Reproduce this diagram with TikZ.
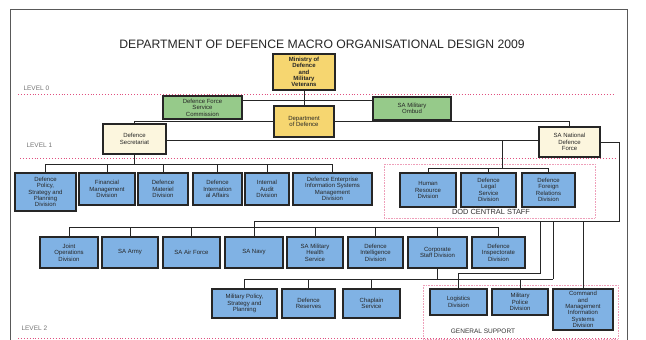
\documentclass[tikz,border=0pt]{standalone}
\usepackage{fontspec}
\setmainfont{Liberation Sans}
\usetikzlibrary{calc}
\definecolor{boxblue}{RGB}{128,178,228}
\definecolor{boxgreen}{RGB}{150,202,138}
\definecolor{boxyellow}{RGB}{246,214,112}
\definecolor{boxcream}{RGB}{252,246,222}
\definecolor{levelpink}{RGB}{224,80,128}
\newcommand\bxf{\fontsize{6}{6.4}\selectfont}
\begin{document}
\begin{tikzpicture}[x=1pt,y=-1pt,
  base/.style={draw=black!85, line width=1.1pt, align=center, inner sep=0.3pt, font=\bxf, text=black!85},
  bluebox/.style={base, fill=boxblue},
  greenbox/.style={base, fill=boxgreen},
  yellowbox/.style={base, fill=boxyellow},
  creambox/.style={base, fill=boxcream},
  conn/.style={draw=black!85, line width=0.9pt},
  levelline/.style={draw=levelpink, dotted, line width=0.9pt},
  grouprect/.style={draw=levelpink!55, densely dotted, line width=0.6pt},
  lvl/.style={font=\fontsize{6.5}{7}\selectfont, text=black!55},
  grplabel/.style={font=\fontsize{7.4}{8}\selectfont, text=black!80},
  framec/.style={draw=black!65, line width=0.8pt}]
\useasboundingbox (0,0) rectangle (646,340);
\fill[white] (0,0) rectangle (646,340);
\draw[framec] (10,9) rectangle (627,352);

\node[font=\fontsize{12.2}{13}\selectfont, text=black!85] (title) at (322,44) {DEPARTMENT OF DEFENCE MACRO ORGANISATIONAL DESIGN 2009};

% level lines
\draw[levelline] (18,94) -- (615,94);
\draw[levelline] (20,158) -- (617,158);
\draw[levelline] (18,338) -- (620,338);
\node[lvl, anchor=west] (lv0) at (20,88) {LEVEL 0};
\node[lvl, anchor=west] (lv1) at (23,145) {LEVEL 1};
\node[lvl, anchor=west] (lv2) at (18,328) {LEVEL 2};

% group rectangles
\draw[grouprect] (384,164) rectangle (595,218);
\node[grplabel] (dcs) at (491,212) {DOD CENTRAL STAFF};
\draw[grouprect] (423,285) rectangle (618,339);
\node[grplabel, font=\fontsize{6.5}{7}\selectfont] (gsl) at (483,331) {GENERAL SUPPORT};

% top level
\node[yellowbox, font=\bxf\bfseries, minimum width=62pt, minimum height=36pt] (min) at (304,72) {Ministry of\\Defence\\and\\Military\\Veterans};
\node[greenbox, minimum width=79pt, minimum height=23pt] (dfsc) at (202.5,107.5) {Defence Force\\Service\\Commission};
\node[yellowbox, minimum width=60pt, minimum height=31pt] (dod) at (304,121.5) {Department\\of Defence};
\node[greenbox, minimum width=78pt, minimum height=23pt] (omb) at (412,108.5) {SA Military\\Ombud};
\node[creambox, minimum width=63pt, minimum height=30pt] (sec) at (134.5,139) {Defence\\Secretariat};
\node[creambox, minimum width=61pt, minimum height=30pt] (sandf) at (569.5,142) {SA National\\Defence\\Force};

% level 1 secretariat divisions
\node[bluebox, minimum width=61pt, minimum height=38pt] (s1) at (45.5,192) {Defence\\Policy,\\Strategy and\\Planning\\Division};
\node[bluebox, minimum width=56pt, minimum height=32pt] (s2) at (107,189) {Financial\\Management\\Division};
\node[bluebox, minimum width=50pt, minimum height=32pt] (s3) at (163,189) {Defence\\Materiel\\Division};
\node[bluebox, minimum width=49pt, minimum height=32pt] (s4) at (217.5,189) {Defence\\Internation\\al Affairs};
\node[bluebox, minimum width=44pt, minimum height=32pt] (s5) at (267,189) {Internal\\Audit\\Division};
\node[bluebox, minimum width=79pt, minimum height=32pt] (s6) at (332.5,189) {Defence Enterprise\\Information Systems\\Management\\Division};

% central staff
\node[bluebox, minimum width=56pt, minimum height=34pt] (c1) at (428,190) {Human\\Resource\\Division};
\node[bluebox, minimum width=55pt, minimum height=34pt] (c2) at (488.5,190) {Defence\\Legal\\Service\\Division};
\node[bluebox, minimum width=53pt, minimum height=34pt] (c3) at (548.5,190) {Defence\\Foreign\\Relations\\Division};

% level 2 services and divisions
\node[bluebox, minimum width=58pt, minimum height=31pt] (r1) at (69,252.5) {Joint\\Operations\\Division};
\node[bluebox, minimum width=56pt, minimum height=31pt] (r2) at (130,252.5) {SA Army};
\node[bluebox, minimum width=57pt, minimum height=31pt] (r3) at (191.5,252.5) {SA Air Force};
\node[bluebox, minimum width=58pt, minimum height=31pt] (r4) at (254,252.5) {SA Navy};
\node[bluebox, minimum width=56pt, minimum height=31pt] (r5) at (315,252.5) {SA Military\\Health\\Service};
\node[bluebox, minimum width=55pt, minimum height=31pt] (r6) at (375.5,252.5) {Defence\\Intelligence\\Division};
\node[bluebox, minimum width=59pt, minimum height=31pt] (r7) at (437.5,252.5) {Corporate\\Staff Division};
\node[bluebox, minimum width=53pt, minimum height=31pt] (r8) at (498.5,252.5) {Defence\\Inspectorate\\Division};

% lower row
\node[bluebox, minimum width=65pt, minimum height=29pt] (l1) at (244.5,303.5) {Military Policy,\\Strategy and\\Planning};
\node[bluebox, minimum width=53pt, minimum height=29pt] (l2) at (308.5,303.5) {Defence\\Reserves};
\node[bluebox, minimum width=57pt, minimum height=29pt] (l3) at (371.5,303.5) {Chaplain\\Service};
\node[bluebox, minimum width=57pt, minimum height=26pt] (g1) at (458.5,302) {Logistics\\Division};
\node[bluebox, minimum width=56pt, minimum height=26pt] (g2) at (520,302) {Military\\Police\\Division};
\node[bluebox, minimum width=60pt, minimum height=41pt] (g3) at (583,309.5) {Command\\and\\Management\\Information\\Systems\\Division};

% connectors: top
\coordinate (j0) at (304,100);
\coordinate (j1) at (0,121);
\coordinate (j2) at (0,140);
\coordinate (j3) at (0,164);
\coordinate (j4) at (0,168);
\coordinate (j5) at (0,227);
\coordinate (jl) at (0,273);
\coordinate (j6) at (0,279);
\coordinate (cs) at (502,140);
\coordinate (rc) at (619,221);
\coordinate (lg) at (540,221);
\coordinate (mpc) at (553,221);

\draw[conn] (min.south) -- (dod.north);
\draw[conn] (dfsc.east |- j0) -- (omb.west |- j0);
\draw[conn] (sec.north) |- (dod.west |- j1);
\draw[conn] (dod.east |- j1) -| (sandf.north);
\draw[conn] (sec.east |- j2) -- (sandf.west |- j2);

% secretariat bar
\draw[conn] (sec.south) -- (sec.south |- j3);
\draw[conn] (s1.north |- j3) -- (s6.north |- j3);
\foreach \n in {s1,s2,s3,s4,s5,s6} \draw[conn] (\n.north |- j3) -- (\n.north);

% central staff bar
\draw[conn] (cs) -- (cs |- j4);
\draw[conn] (c1.north |- j4) -- (c3.north |- j4);
\foreach \n in {c1,c2,c3} \draw[conn] (\n.north |- j4) -- (\n.north);

% SANDF feed
\draw[conn] (sandf.east) -| (rc) -- (r4.north |- rc) -- (r4.north |- j5);
\draw[conn] (r1.north |- j5) -- (r8.north |- j5);
\foreach \n in {r1,r2,r3,r4,r5,r6,r7,r8} \draw[conn] (\n.north |- j5) -- (\n.north);

% lower connectors
\draw[conn] (lg) |- (g1.north |- jl) -- (g1.north);
\draw[conn] (mpc) -- (mpc |- j6);
\draw[conn] (l1.north |- j6) -- (mpc |- j6);
\draw[conn] (r7.south) -- (r7.south |- j6);
\foreach \n in {l1,l2,l3,g2} \draw[conn] (\n.north |- j6) -- (\n.north);
\draw[conn] (g3.north |- rc) -- (g3.north);
\end{tikzpicture}
\end{document}
